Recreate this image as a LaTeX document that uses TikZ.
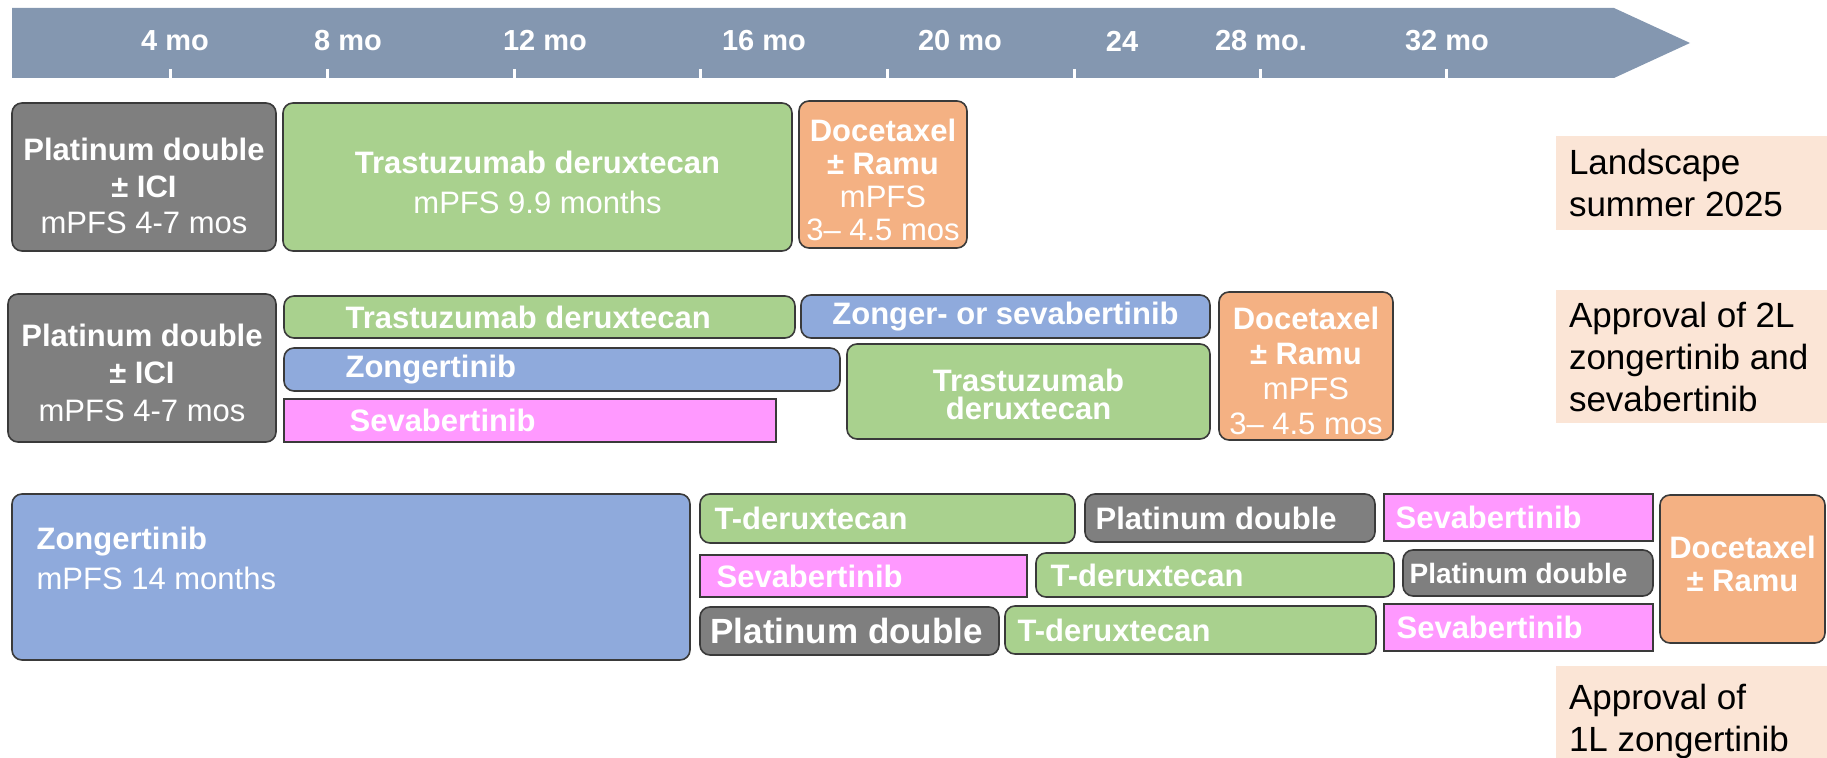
\documentclass[tikz,border=0pt]{standalone}
\usepackage{fontspec}
\setmainfont{Liberation Sans}
\usepackage{tikz}
\usetikzlibrary{fit,positioning}

\definecolor{barblue}{HTML}{8497B0}
\definecolor{platgray}{HTML}{7F7F7F}
\definecolor{tdxdgreen}{HTML}{A9D18E}
\definecolor{zongblue}{HTML}{8FAADC}
\definecolor{sevapink}{HTML}{FF99FF}
\definecolor{docorange}{HTML}{F4B183}
\definecolor{notepeach}{HTML}{FBE5D6}
\definecolor{edgegray}{HTML}{3A3A3A}

\tikzset{
  drug/.style = {draw = edgegray, line width = 0.8pt, rounded corners = 5pt, inner sep = 0pt},
  plat/.style = {drug, fill = platgray},
  tdxd/.style = {drug, fill = tdxdgreen},
  zong/.style = {drug, fill = zongblue},
  seva/.style = {drug, fill = sevapink, sharp corners},
  doce/.style = {drug, fill = docorange},
  note/.style = {fill = notepeach, inner sep = 0pt},
  notetext/.style = {align = left, inner sep = 0pt, font = \fontsize{17.5}{21}\selectfont},
  month/.style = {text = white, inner sep = 0pt, font = \bfseries\fontsize{14.5}{17}\selectfont},
  monthtick/.style = {draw = white, line width = 1.5pt},
  boxtext/.style = {text = white, inner sep = 0pt, align = center},
  inlabel/.style = {text = white, inner sep = 0pt, font = \bfseries\fontsize{15.5}{18}\selectfont}
}

\begin{document}
\begin{tikzpicture}[x = 0.5pt, y = -0.5pt]
\useasboundingbox (0,0) rectangle (1827,758);

% time axis
\fill[barblue] (12,8) -- (1614,8) -- (1690,43) -- (1614,78) -- (12,78) -- cycle;
\draw[monthtick] (170,69) -- (170,78);
\draw[monthtick] (327,69) -- (327,78);
\draw[monthtick] (514,69) -- (514,78);
\draw[monthtick] (700,69) -- (700,78);
\draw[monthtick] (887,69) -- (887,78);
\draw[monthtick] (1074,69) -- (1074,78);
\draw[monthtick] (1260,69) -- (1260,78);
\draw[monthtick] (1446,69) -- (1446,78);
\node[month] (1) at (175,41) {4 mo};
\node[month] (2) at (348,41) {8 mo};
\node[month] (3) at (545,41) {12 mo};
\node[month] (4) at (764,41) {16 mo};
\node[month] (5) at (960,41) {20 mo};
\node[month] (6) at (1122,41) {24};
\node[month] (7) at (1261,41) {28 mo.};
\node[month] (8) at (1447,41) {32 mo};

% landscape summer 2025
\node[plat, fit = {(12,103) (276,251)}] (9) {};
\node[tdxd, fit = {(283,103) (792,251)}] (10) {};
\node[doce, fit = {(799,101) (967,248)}] (11) {};
\node[note, fit = {(1556,136) (1827,230)}] (12) {};
\node[notetext, right = 6.5pt of 12.west] (13) {Landscape\\summer 2025};
\node[boxtext, yshift = -4.5pt, font = \fontsize{15.5}{18.25}\selectfont] (50) at (9.center) {\textbf{Platinum double}\\\textbf{± ICI}\\mPFS 4-7 mos};
\node[boxtext, yshift = -2.5pt, font = \fontsize{15.5}{20}\selectfont] (51) at (10.center) {\textbf{Trastuzumab deruxtecan}\\mPFS 9.9 months};
\node[boxtext, yshift = -2.75pt, font = \fontsize{15.5}{16.6}\selectfont] (52) at (11.center) {\textbf{Docetaxel}\\\textbf{± Ramu}\\mPFS\\3– 4.5 mos};

% 2L approval
\node[plat, fit = {(8,294) (276,442)}] (14) {};
\node[tdxd, fit = {(284,296) (795,338)}] (15) {};
\node[zong, fit = {(801,295) (1210,338)}] (16) {};
\node[zong, fit = {(284,348) (840,391)}] (17) {};
\node[seva, fit = {(284,399) (776,442)}] (18) {};
\node[tdxd, fit = {(847,344) (1210,439)}] (19) {};
\node[doce, fit = {(1219,292) (1393,440)}] (20) {};
\node[note, fit = {(1556,290) (1827,423)}] (21) {};
\node[notetext, right = 6.5pt of 21.west] (22) {Approval of 2L\\zongertinib and\\sevabertinib};
\node[boxtext, yshift = -2.25pt, font = \fontsize{15.5}{18.75}\selectfont] (53) at (14.center) {\textbf{Platinum double}\\\textbf{± ICI}\\mPFS 4-7 mos};
\node[inlabel] (54) at (16.center) {Zonger- or sevabertinib};
\node[boxtext, yshift = -1.25pt, font = \bfseries\fontsize{15.5}{14}\selectfont] (55) at (19.center) {Trastuzumab\\deruxtecan};
\node[boxtext, yshift = -2.25pt, font = \fontsize{15.5}{17.5}\selectfont] (56) at (20.center) {\textbf{Docetaxel}\\\textbf{± Ramu}\\mPFS\\3– 4.5 mos};
\node[inlabel, right = 31pt of 15.west] (23) {Trastuzumab deruxtecan};
\node[inlabel, right = 31pt of 17.west] (24) {Zongertinib};
\node[inlabel, right = 33pt of 18.west] (25) {Sevabertinib};

% 1L approval
\node[zong, fit = {(12,494) (690,660)}] (26) {};
\node[text = white, inner sep = 0pt, align = left, font = \fontsize{15.5}{20}\selectfont, below right = 16.5pt and 12.5pt of 26.north west] (27) {\textbf{Zongertinib}\\mPFS 14 months};
\node[tdxd, fit = {(700,494) (1075,543)}] (28) {};
\node[plat, fit = {(1085,494) (1375,542)}] (29) {};
\node[seva, fit = {(1384,494) (1653,541)}] (30) {};
\node[seva, fit = {(700,555) (1027,597)}] (31) {};
\node[tdxd, fit = {(1036,553) (1394,597)}] (32) {};
\node[plat, fit = {(1403,550) (1653,596)}] (33) {};
\node[plat, fit = {(700,607) (999,655)}] (34) {};
\node[tdxd, fit = {(1005,606) (1376,654)}] (35) {};
\node[seva, fit = {(1384,604) (1653,651)}] (36) {};
\node[doce, fit = {(1660,495) (1825,643)}] (37) {};
\node[boxtext, yshift = 2.75pt, font = \bfseries\fontsize{15.5}{16.5}\selectfont] (57) at (37.center) {Docetaxel\\± Ramu};
\node[inlabel, right = 7.5pt of 28.west] (40) {T-deruxtecan};
\node[inlabel, right = 5.5pt of 29.west] (41) {Platinum double};
\node[inlabel, right = 6pt of 30.west] (42) {Sevabertinib};
\node[inlabel, right = 8.5pt of 31.west] (43) {Sevabertinib};
\node[inlabel, right = 7.5pt of 32.west] (44) {T-deruxtecan};
\node[inlabel, right = 3.5pt of 33.west, font = \bfseries\fontsize{14}{16}\selectfont] (45) {Platinum double};
\node[inlabel, right = 5.5pt of 34.west, font = \bfseries\fontsize{17.5}{20}\selectfont] (46) {Platinum double};
\node[inlabel, right = 6.5pt of 35.west] (47) {T-deruxtecan};
\node[inlabel, right = 6.5pt of 36.west] (48) {Sevabertinib};
\node[note, fit = {(1556,666) (1827,758)}] (38) {};
\node[notetext, below right = 9pt and 6.5pt of 38.north west] (39) {Approval of\\1L zongertinib};
\end{tikzpicture}
\end{document}
